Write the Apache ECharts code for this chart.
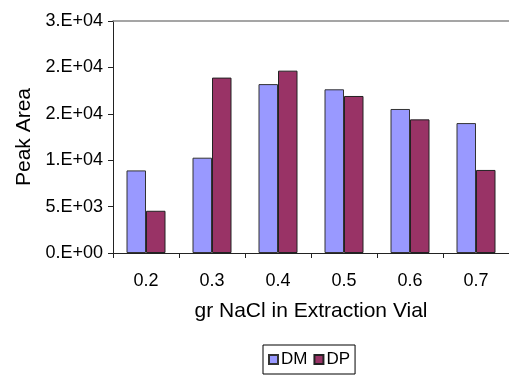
<!DOCTYPE html>
<html><head><meta charset="utf-8">
<script src="https://cdn.jsdelivr.net/npm/echarts@6/dist/echarts.min.js"></script>
<style>html,body{margin:0;padding:0;background:#fff}#c{width:509px;height:376px}</style>
</head><body><div id="c"></div>
<script>
const categories = ['0.2','0.3','0.4','0.5','0.6','0.7'];
const dmValues = [8900, 10270, 18200, 17640, 15520, 14000];
const dpValues = [4550, 18900, 19650, 16920, 14400, 8950];
const yTickLabels = ['0.E+00','5.E+03','1.E+04','2.E+04','2.E+04','3.E+04'];
const FONT = 'Liberation Sans, Arial, sans-serif';
const chart = echarts.init(document.getElementById('c'), null, {renderer:'canvas'});
chart.setOption({
  animation:false,
  textStyle:{fontFamily:FONT},
  grid:{left:113, top:21, width:406, bottom:123, containLabel:false},
  legend:{
    data:['DM','DP'], left:263, top:345, icon:'rect', itemWidth:9, itemHeight:9, itemGap:6,
    borderColor:'#000', borderWidth:1, padding:[6,5,6,5],
    textStyle:{fontFamily:FONT, fontSize:17, color:'#000', padding:[0,0,0,-2]}
  },
  xAxis:[{
    type:'category', data:categories, position:'bottom',
    axisLine:{lineStyle:{color:'#222', width:1}},
    axisTick:{show:true, length:5, lineStyle:{color:'#222'}},
    axisLabel:{color:'#000', fontSize:18, fontFamily:FONT, margin:19},
    name:'gr NaCl in Extraction Vial', nameLocation:'middle', nameGap:48,
    nameTextStyle:{color:'#000', fontSize:21, fontFamily:FONT}
  },{
    type:'category', data:categories, position:'top',
    axisLine:{lineStyle:{color:'#888', width:1.5}},
    axisTick:{show:false}, axisLabel:{show:false}
  }],
  yAxis:{
    type:'value', min:0, max:25000, interval:5000,
    axisLine:{show:true, lineStyle:{color:'#222', width:1}},
    axisTick:{show:true, length:5, lineStyle:{color:'#222'}},
    splitLine:{show:false},
    axisLabel:{color:'#000', fontSize:18, fontFamily:FONT, margin:10,
      formatter:function(v){return yTickLabels[Math.round(v/5000)];}},
    name:'Peak Area', nameLocation:'middle', nameGap:77, nameRotate:90,
    nameTextStyle:{color:'#000', fontSize:21, fontFamily:FONT}
  },
  series:[
    {name:'DM', type:'bar', data:dmValues, barWidth:19.5, barGap:'0%',
     itemStyle:{color:'#9999FF', borderColor:'#333', borderWidth:1}},
    {name:'DP', type:'bar', data:dpValues, barWidth:19.5, barGap:'0%',
     itemStyle:{color:'#993366', borderColor:'#222', borderWidth:1}}
  ]
});
</script></body></html>
